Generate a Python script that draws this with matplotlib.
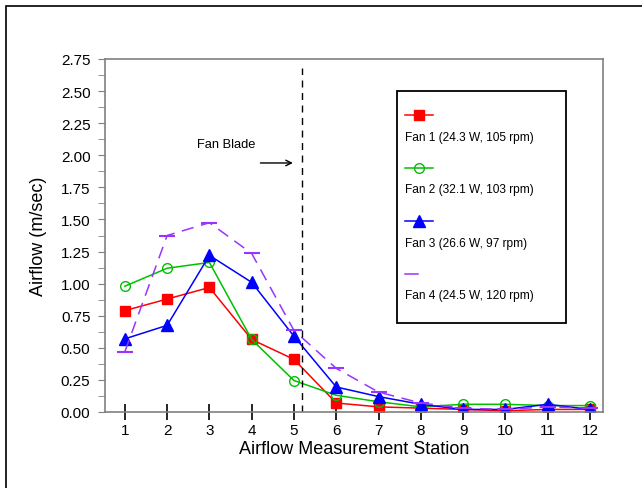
import matplotlib.pyplot as plt
from matplotlib.lines import Line2D
from matplotlib.patches import Rectangle
from matplotlib.ticker import MultipleLocator

plt.rcParams['font.family'] = ['Liberation Sans', 'DejaVu Sans']

estaciones = [1, 2, 3, 4, 5, 6, 7, 8, 9, 10, 11, 12]
fan1 = [0.79, 0.88, 0.97, 0.565, 0.41, 0.07, 0.04, 0.03, 0.02, 0.01, 0.02, 0.02]
fan2 = [0.98, 1.12, 1.165, 0.565, 0.245, 0.13, 0.08, 0.04, 0.06, 0.06, 0.05, 0.05]
fan3 = [0.57, 0.675, 1.22, 1.01, 0.59, 0.195, 0.12, 0.06, 0.02, 0.02, 0.06, 0.02]
fan4 = [0.47, 1.375, 1.475, 1.235, 0.635, 0.34, 0.155, 0.07, 0.03, 0.02, 0.04, 0.03]
etiquetas = ['Fan 1 (24.3 W, 105 rpm)', 'Fan 2 (32.1 W, 103 rpm)',
             'Fan 3 (26.6 W, 97 rpm)', 'Fan 4 (24.5 W, 120 rpm)']
pos_aspa = 5.2

fig = plt.figure(figsize=(6.42, 4.89), dpi=100)
ax = fig.add_axes([105/642, 1-413/489, 498/642, 353/489])

# marco exterior
fig.patches.append(Rectangle((6/642, -0.1), 1.2, 1.1 - 7/489, transform=fig.transFigure,
                             fill=False, edgecolor='black', linewidth=1.2))

estilos = [
    dict(color='#ff0000', marker='s', markersize=7.5, markerfacecolor='#ff0000', linestyle='-'),
    dict(color='#00c000', marker='o', markersize=7, markerfacecolor='none', linestyle='-'),
    dict(color='#0000ff', marker='^', markersize=8.5, markerfacecolor='#0000ff', linestyle='-'),
    dict(color='#9933ff', marker='_', markersize=11, markeredgewidth=1.5, linestyle=(0, (8, 5))),
]
series = [fan1, fan2, fan3, fan4]
for s, est in zip(series, estilos):
    ax.plot(estaciones, s, linewidth=1.1, **est)

ax.vlines(pos_aspa, 0, 2.68, colors='black', linestyles=(0, (5, 4)), linewidth=1)
ax.annotate('', xy=(5.04, 1.94), xytext=(4.14, 1.94),
            arrowprops=dict(arrowstyle='->', color='black', lw=1))
ax.text(3.39, 2.09, 'Fan Blade', fontsize=9.3, ha='center', va='center')

ax.set_xlim(0.53, 12.31)
ax.set_ylim(0, 2.75)
ax.set_xticks(estaciones)
ax.yaxis.set_major_locator(MultipleLocator(0.25))
ax.yaxis.set_minor_locator(MultipleLocator(0.125))
ax.yaxis.set_major_formatter(plt.FuncFormatter(lambda v, p: f'{v:.2f}'))
ax.tick_params(axis='x', direction='inout', length=12, width=1.2, color='black',
               labelsize=11, pad=2)
ax.tick_params(axis='y', which='both', direction='out', length=5, color='#808080',
               labelsize=11, pad=5.5)
for sp in ax.spines.values():
    sp.set_color('#808080')
    sp.set_linewidth(1.2)

ax.set_xlabel('Airflow Measurement Station', fontsize=13, labelpad=2)
ax.set_ylabel('Airflow (m/sec)', fontsize=13, labelpad=10)

# leyenda manual (marca encima del texto)
ax0, ay0 = 0.586, 0.252
ax.add_patch(Rectangle((ax0, ay0), 0.34, 0.657, transform=ax.transAxes, fill=False,
                       edgecolor='black', linewidth=1.3, zorder=5))
fila_marca = [0.842, 0.692, 0.540, 0.392]
fila_texto = [0.780, 0.632, 0.479, 0.332]
for est, lab, ym, yt in zip(estilos, etiquetas, fila_marca, fila_texto):
    e = dict(est)
    if e['marker'] == '_':
        e['marker'] = None
        e['linestyle'] = '-'
        xs = [0.603, 0.628]
    else:
        xs = [0.603, 0.658]
    ax.add_line(Line2D(xs, [ym, ym], transform=ax.transAxes, linewidth=1.1,
                       markevery=[], **e))
    if est['marker'] != '_':
        ax.add_line(Line2D([(xs[0] + xs[1]) / 2], [ym], transform=ax.transAxes,
                           **dict(est, linestyle='none')))
    ax.text(0.603, yt, lab, transform=ax.transAxes, fontsize=8.6, va='center', ha='left')

fig.savefig('out.png', dpi=100)
